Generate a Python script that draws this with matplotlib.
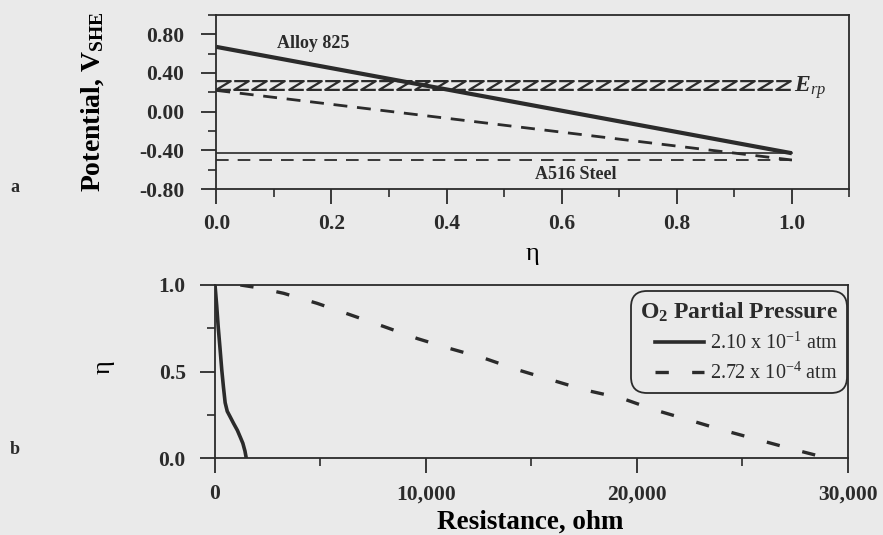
import numpy as np
import matplotlib
matplotlib.use('Agg')
import matplotlib.pyplot as plt
from matplotlib.path import Path
from matplotlib.ticker import MultipleLocator, FuncFormatter

# ---- data ----
eta_a = [0.0, 1.0]
alloy825 = [0.67, -0.43]          # thick solid
alloy825_low = [0.22, -0.50]      # dashed
a516_solid = [-0.43, -0.43]
a516_dash = [-0.50, -0.50]
E_rp = 0.28

# panel b: eta vs resistance
R_air = [0, 80, 150, 240, 320, 400, 480, 580, 710, 880, 1060, 1200, 1320, 1420, 1480]
eta_air = [1.0, 0.88, 0.76, 0.63, 0.51, 0.41, 0.32, 0.27, 0.24, 0.20, 0.16, 0.12, 0.085, 0.04, 0.0]
R_low = [1200, 2000, 3250, 4840, 6430, 8000, 9600, 11100, 12780, 14370, 15950,
         17540, 19290, 20870, 22460, 24050, 25790, 27540, 29000]
eta_low = [1.0, 0.985, 0.952, 0.894, 0.827, 0.76, 0.69, 0.634, 0.576, 0.509, 0.451,
           0.393, 0.345, 0.277, 0.22, 0.162, 0.104, 0.046, 0.0]

ink = '#2b2b2b'
bg = '#eaeaea'
plt.rcParams['font.family'] = 'Liberation Serif'
plt.rcParams['mathtext.fontset'] = 'custom'
plt.rcParams['mathtext.rm'] = 'Liberation Serif'
plt.rcParams['mathtext.it'] = 'Liberation Serif:italic'
plt.rcParams['mathtext.bf'] = 'Liberation Serif:bold'
plt.rcParams['mathtext.bfit'] = 'Liberation Serif:italic:bold'
plt.rcParams['text.color'] = ink
plt.rcParams['axes.edgecolor'] = ink
plt.rcParams['xtick.color'] = ink
plt.rcParams['ytick.color'] = ink

fig = plt.figure(figsize=(8.83, 5.35), dpi=100, facecolor=bg)
ax1 = fig.add_axes([0.245, 0.6467, 0.717, 0.3253], facecolor=bg)
ax2 = fig.add_axes([0.2435, 0.1439, 0.7168, 0.3234], facecolor=bg)

for ax in (ax1, ax2):
    for s in ax.spines.values():
        s.set_linewidth(1.3)
    ax.tick_params(which='major', direction='out', length=11, width=1.3, labelsize=15.5)
    ax.tick_params(which='minor', direction='out', length=5.5, width=1.2)
    ax.tick_params(top=False, right=False)

# ---- panel a ----
ax1.plot(eta_a, alloy825, color=ink, lw=3.0, solid_capstyle='butt')
ax1.plot(eta_a, alloy825_low, color=ink, lw=2.0, dashes=(5, 3.5))
ax1.plot(eta_a, a516_solid, color=ink, lw=1.2)
ax1.plot(eta_a, a516_dash, color=ink, lw=1.3, dashes=(7, 5))

zpath = Path([(-1, 0.6), (1, 0.6), (-1, -0.6), (1, -0.6)],
             [Path.MOVETO, Path.LINETO, Path.LINETO, Path.LINETO])
eta_z = np.linspace(0.012, 0.985, 32)
ax1.plot(eta_z, np.full_like(eta_z, E_rp), ls='none', marker=zpath, ms=10.5,
         mec=ink, mfc='none', mew=1.6)

ax1.set_xlim(0, 1.1)
ax1.set_ylim(-0.8, 1.0)
ax1.set_xticks([0.0, 0.2, 0.4, 0.6, 0.8, 1.0])
ax1.xaxis.set_minor_locator(MultipleLocator(0.1))
ax1.set_yticks([-0.8, -0.4, 0.0, 0.4, 0.8])
ax1.yaxis.set_minor_locator(MultipleLocator(0.2))
ax1.xaxis.set_major_formatter(FuncFormatter(lambda v, p: f'{v:.1f}'))
ax1.yaxis.set_major_formatter(FuncFormatter(lambda v, p: f'{v:.2f}'))
ax1.tick_params(axis='y', pad=12)
ax1.tick_params(axis='x', pad=7)
for lab in ax1.get_xticklabels() + ax1.get_yticklabels():
    lab.set_fontweight('bold')

ax1.text(0.168, 0.70, 'Alloy 825', fontsize=13, fontweight='bold', ha='center', va='center')
ax1.text(0.625, -0.65, 'A516 Steel', fontsize=13, fontweight='bold', ha='center', va='center')
ax1.text(1.003, 0.25, r'$\mathbfit{E}_{\mathit{rp}}$', fontsize=17, ha='left', va='center')

ax1.set_ylabel(r'Potential, V$_{\mathbf{SHE}}$', fontsize=20, fontweight='bold')
ax1.yaxis.set_label_coords(-0.175, 0.5)
ax1.set_xlabel('η', fontsize=19)
ax1.xaxis.set_label_coords(0.5, -0.31)

# ---- panel b ----
ax2.plot(R_air, eta_air, color=ink, lw=2.6, label=r'2.10 x 10$^{-1}$ atm')
ax2.plot(R_low, eta_low, color=ink, lw=2.4, dashes=(4, 7), label=r'2.72 x 10$^{-4}$ atm')
ax2.set_xlim(0, 30000)
ax2.set_ylim(0, 1.0)
ax2.set_xticks([0, 10000, 20000, 30000])
ax2.xaxis.set_minor_locator(MultipleLocator(5000))
ax2.set_yticks([0.0, 0.5, 1.0])
ax2.yaxis.set_minor_locator(MultipleLocator(0.25))
ax2.xaxis.set_major_formatter(FuncFormatter(lambda v, p: f'{int(v):,}'))
ax2.yaxis.set_major_formatter(FuncFormatter(lambda v, p: f'{v:.1f}'))
ax2.tick_params(axis='y', pad=10)
ax2.tick_params(axis='x', pad=8)
for lab in ax2.get_xticklabels() + ax2.get_yticklabels():
    lab.set_fontweight('bold')

ax2.set_ylabel('η', fontsize=19, rotation=90)
ax2.yaxis.set_label_coords(-0.158, 0.526)
ax2.set_xlabel('Resistance, ohm', fontsize=19.5, fontweight='bold')
ax2.xaxis.set_label_coords(0.498, -0.30)

leg = ax2.legend(loc='upper right', bbox_to_anchor=(0.992, 0.94), borderaxespad=0,
                 title=r'O$_\mathbf{2}$ Partial Pressure', fontsize=14.5,
                 title_fontproperties={'size': 17, 'weight': 'bold'},
                 frameon=True, fancybox=True, edgecolor=ink, facecolor=bg, framealpha=1,
                 handlelength=2.4, handletextpad=0.3, labelspacing=0.45,
                 borderpad=0.25, alignment='right')
leg.get_frame().set_linewidth(1.3)
leg.get_frame().set_boxstyle('round,pad=0.2,rounding_size=0.8')

fig.text(15 / 883, 1 - 187 / 535, 'a', fontsize=13, fontweight='bold', ha='center', va='center')
fig.text(15 / 883, 1 - 450 / 535, 'b', fontsize=13, fontweight='bold', ha='center', va='center')

fig.savefig('out.png', dpi=100, facecolor=bg)
